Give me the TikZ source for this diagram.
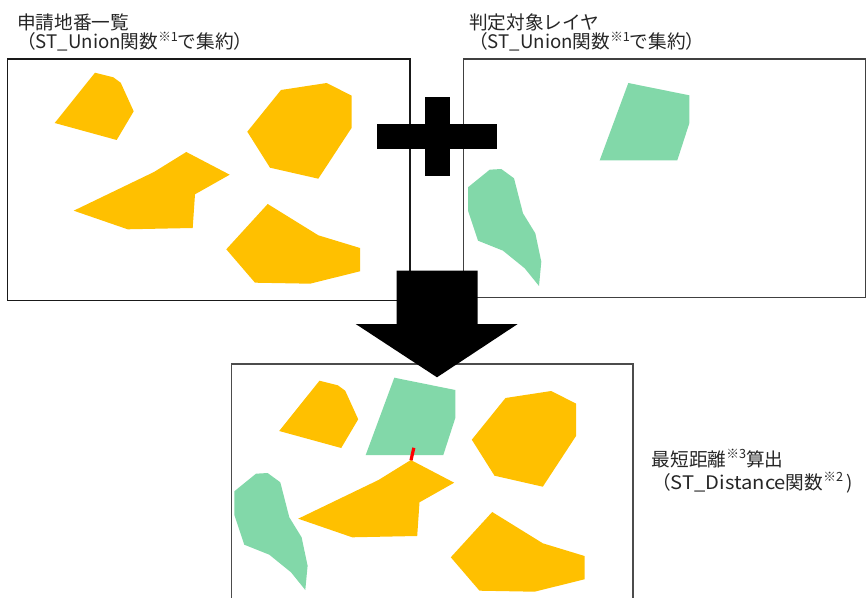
\documentclass[tikz,border=0pt]{standalone}
\usepackage{fontspec}
\usepackage{graphicx}
\setmainfont{Noto Sans CJK JP}
\newcommand\supmark[1]{\raisebox{0.42em}{\fontsize{9.5pt}{10pt}\selectfont #1}}
\definecolor{parcel}{RGB}{255,192,0}
\definecolor{layer}{RGB}{130,216,169}
\definecolor{txt}{RGB}{38,38,38}
\tikzset{
  lbl/.style={anchor=base west,inner sep=0pt,text=txt,font=\fontsize{14pt}{16pt}\selectfont},
  framebox/.style={line width=0.8pt},
  yel/.style={fill=parcel},
  grn/.style={fill=layer},
  blockarrow/.style={fill=black},
}
\def\polyA{(95,72.7)--(113.3,77.3)--(120.7,82.7)--(133.7,111.3)--(116.7,140)--(54.7,123)--cycle}
\def\polyB{(281,90)--(326.7,83)--(351.7,95.7)--(351.7,127.7)--(318.3,178.7)--(270,167.7)--(247.3,131.7)--cycle}
\def\polyC{(186.3,152)--(229.7,174.7)--(195,194.3)--(192.7,228)--(127.7,229.3)--(73.7,210.7)--(154,172)--cycle}
\def\polyD{(267.7,204)--(318.3,235.3)--(360,248)--(360,271.3)--(310,283.7)--(255,282.7)--(226.3,249.3)--cycle}
\def\polyE{(628.3,83)--(689.3,95.3)--(689.3,123.3)--(677.3,160.3)--(599.7,160.3)--cycle}
\def\polyF{(489.7,169.7)--(501.3,169)--(514,178.3)--(523,213.3)--(535.3,233.3)--(541.3,261.7)--(539,286)--(524.7,268.3)--(503,250.7)--(478,240.7)--(468,210.7)--(468,187.3)--cycle}
\begin{document}
\begin{tikzpicture}[x=0.75pt,y=-0.75pt]
\useasboundingbox (0,0) rectangle (866,598);
% titles
\node[lbl] (t1a) at (17,29.5) {申請地番一覧};
\node[lbl] (t1b) at (17,49) {（ST\_Union関数\supmark{※1}で集約）};
\node[lbl] (t2a) at (469,29.5) {判定対象レイヤ};
\node[lbl] (t2b) at (469,49) {（ST\_Union関数\supmark{※1}で集約）};
\node[lbl] (t3a) at (651.5,466) {最短距離\supmark{※3}算出};
\node[lbl] (t3b) at (652,489) {（\scalebox{1.08}[1]{ST\_Distance}関数\supmark{※2}\,)};
% frames
\draw[framebox,draw=black!90] (7.3,59) rectangle (410,300.7);
\draw[framebox,draw=black!75] (463.7,59) rectangle (865.3,297.7);
\draw[framebox,draw=black!70] (231.7,600) -- (231.7,364) -- (633,364) -- (633,600);
% top-left layer
\fill[yel] \polyA; \fill[yel] \polyB; \fill[yel] \polyC; \fill[yel] \polyD;
% top-right layer
\fill[grn] \polyE; \fill[grn] \polyF;
% result
\begin{scope}[shift={(224.5,308)}]
\fill[yel] \polyA; \fill[yel] \polyB; \fill[yel] \polyC; \fill[yel] \polyD;
\end{scope}
\begin{scope}[shift={(-234,294.7)}]
\fill[grn] \polyE;
\end{scope}
\begin{scope}[shift={(-233.7,304)}]
\fill[grn] \polyF;
\end{scope}
\draw[red,line width=2.4pt] (413.8,447.8) -- (411,460.3);
% plus
\fill[blockarrow] (377.3,124) rectangle (497,149.3);
\fill[blockarrow] (425,97) rectangle (450,176.3);
% down arrow
\fill[blockarrow] (396.7,270.7) -- (477.7,270.7) -- (477.7,324) -- (517.7,324) -- (437,377.3) -- (355.7,324) -- (396.7,324) -- cycle;
\end{tikzpicture}
\end{document}
